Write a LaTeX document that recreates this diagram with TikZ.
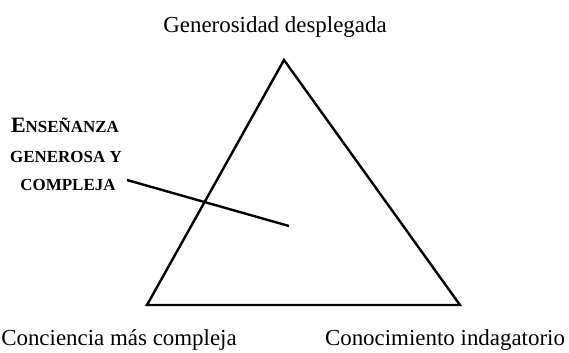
\documentclass[tikz,border=0pt]{standalone}
\usepackage{fontspec}
\setmainfont{Liberation Serif}
\begin{document}
\begin{tikzpicture}[x=1bp,y=-1bp,
  edge/.style={line width=2.4bp, line join=miter},
  lbl/.style={anchor=base, inner sep=0pt, font=\fontsize{23}{27}\selectfont},
  sclbl/.style={anchor=base, inner sep=0pt, font=\bfseries}]
\useasboundingbox (0,0) rectangle (569,352);
\coordinate (top) at (284,60);
\coordinate (bl) at (147,305);
\coordinate (br) at (460,305);
\coordinate (ps) at (127,180);
\coordinate (pe) at (289,226);
\draw[edge] (top) -- (br) -- (bl) -- cycle;
\draw[edge] (ps) -- (pe);
\node[lbl] (tg) at (275,32) {Generosidad desplegada};
\node[lbl] (tc) at (119,345) {Conciencia más compleja};
\node[lbl] (tk) at (445,345) {Conocimiento indagatorio};
\node[sclbl] (l1) at (65,132) {\fontsize{22}{26}\selectfont E\fontsize{17}{20}\selectfont NSEÑANZA};
\node[sclbl] (l2) at (66,162) {\fontsize{17}{20}\selectfont GENEROSA Y};
\node[sclbl] (l3) at (68,190) {\fontsize{17}{20}\selectfont COMPLEJA};
\end{tikzpicture}
\end{document}
